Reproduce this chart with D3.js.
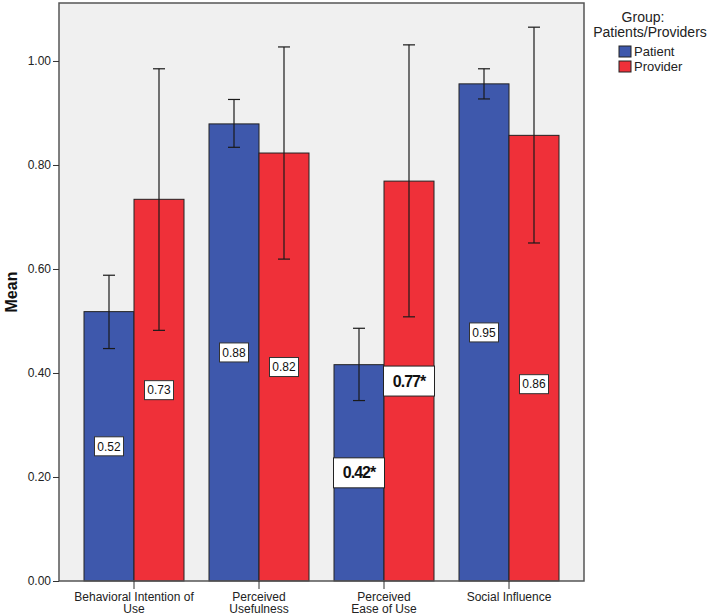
<!DOCTYPE html>
<html>
<head>
<meta charset="utf-8">
<script src="https://cdn.jsdelivr.net/npm/d3@7"></script>
<style>
  body { margin: 0; background: #fff; }
  svg { font-family: "Liberation Sans", Arial, sans-serif; }
</style>
</head>
<body>
<script>
// data
var categories = ["Behavioral Intention of|Use", "Perceived|Usefulness", "Perceived|Ease of Use", "Social Influence"];
var groups = ["Patient", "Provider"];
var patientMean = [0.518, 0.879, 0.416, 0.956];
var providerMean = [0.734, 0.823, 0.769, 0.857];
var patientLow = [0.447, 0.834, 0.347, 0.927];
var patientHigh = [0.588, 0.926, 0.486, 0.985];
var providerLow = [0.482, 0.619, 0.508, 0.650];
var providerHigh = [0.985, 1.027, 1.031, 1.065];
var patientLabels = ["0.52", "0.88", "0.42*", "0.95"];
var providerLabels = ["0.73", "0.82", "0.77*", "0.86"];
var yTicks = [0, 0.2, 0.4, 0.6, 0.8, 1.0];

var colors = {Patient: "#3e58ac", Provider: "#ef3039"};
// the 0.86 box sits lower than the bar middle in the original
var labelShift = {"0.86": 26};

var rows = [];
categories.forEach(function(c, i) {
  rows.push({cat: c, group: "Patient", mean: patientMean[i], lo: patientLow[i], hi: patientHigh[i], label: patientLabels[i]});
  rows.push({cat: c, group: "Provider", mean: providerMean[i], lo: providerLow[i], hi: providerHigh[i], label: providerLabels[i]});
});

var svg = d3.select("body").append("svg")
    .attr("width", 709)
    .attr("height", 615);

var plotLeft = 59, plotRight = 584, plotTop = 3, plotBottom = 581;

var xScale = d3.scaleBand().domain(categories).range([plotLeft, plotRight]).padding(0.2);
var xSub = d3.scaleBand().domain(groups).range([0, xScale.bandwidth()]);
var yScale = d3.scaleLinear().domain([0, 1.1115]).range([plotBottom, plotTop]);

// plot background
svg.append("rect")
    .attr("x", plotLeft).attr("y", plotTop)
    .attr("width", plotRight - plotLeft).attr("height", plotBottom - plotTop)
    .attr("fill", "#f0f0f0");

// bars
svg.selectAll(".bar")
    .data(rows)
    .enter().append("rect")
    .attr("class", "bar")
    .attr("x", function(d) { return xScale(d.cat) + xSub(d.group); })
    .attr("width", xSub.bandwidth())
    .attr("y", function(d) { return yScale(d.mean); })
    .attr("height", function(d) { return yScale(0) - yScale(d.mean); })
    .attr("fill", function(d) { return colors[d.group]; })
    .attr("stroke", "#222")
    .attr("stroke-width", 1);

// error bars
var err = svg.selectAll(".err")
    .data(rows)
    .enter().append("g")
    .attr("class", "err")
    .attr("stroke", "#1a1a1a")
    .attr("stroke-width", 1.2);

function cx(d) { return xScale(d.cat) + xSub(d.group) + xSub.bandwidth() / 2; }

err.append("line")
    .attr("x1", cx).attr("x2", cx)
    .attr("y1", function(d) { return yScale(d.lo); })
    .attr("y2", function(d) { return yScale(d.hi); });
err.append("line")
    .attr("x1", function(d) { return cx(d) - 6; }).attr("x2", function(d) { return cx(d) + 6; })
    .attr("y1", function(d) { return yScale(d.lo); })
    .attr("y2", function(d) { return yScale(d.lo); });
err.append("line")
    .attr("x1", function(d) { return cx(d) - 6; }).attr("x2", function(d) { return cx(d) + 6; })
    .attr("y1", function(d) { return yScale(d.hi); })
    .attr("y2", function(d) { return yScale(d.hi); });

// value labels
var lab = svg.selectAll(".lab")
    .data(rows)
    .enter().append("g")
    .attr("class", "lab")
    .attr("transform", function(d) {
      return "translate(" + cx(d) + "," + (yScale(d.mean / 2) + (labelShift[d.label] || 0)) + ")";
    });

lab.each(function(d) {
  var g = d3.select(this);
  var bold = d.label.indexOf("*") >= 0;
  var w = bold ? 51 : 29, h = bold ? 30 : 19;
  g.append("rect")
      .attr("x", -w / 2).attr("y", -h / 2)
      .attr("width", w).attr("height", h)
      .attr("fill", "#fff")
      .attr("stroke", bold ? "#222" : "#333")
      .attr("stroke-width", 1);
  g.append("text")
      .attr("text-anchor", "middle")
      .attr("dy", "0.35em")
      .attr("font-size", bold ? 16 : 12)
      .attr("font-weight", bold ? "bold" : "normal")
      .attr("letter-spacing", bold ? -1 : 0)
      .attr("fill", "#111")
      .text(d.label);
});

// frame
svg.append("rect")
    .attr("x", plotLeft).attr("y", plotTop)
    .attr("width", plotRight - plotLeft).attr("height", plotBottom - plotTop)
    .attr("fill", "none")
    .attr("stroke", "#555")
    .attr("stroke-width", 1.5);

// y axis
var yAxis = svg.append("g")
    .attr("transform", "translate(" + plotLeft + ",0)")
    .call(d3.axisLeft(yScale).tickValues(yTicks).tickFormat(d3.format(".2f")).tickSize(6).tickPadding(2));
yAxis.select(".domain").remove();
yAxis.selectAll("line").attr("stroke", "#333");
yAxis.selectAll("text").attr("font-size", 12).attr("fill", "#222")
    .attr("font-family", "Liberation Sans, Arial, sans-serif");

svg.append("text")
    .attr("transform", "translate(17," + ((plotTop + plotBottom) / 2) + ") rotate(-90)")
    .attr("text-anchor", "middle")
    .attr("font-size", 16)
    .attr("font-weight", "bold")
    .attr("fill", "#111")
    .text("Mean");

// x axis
var xAxis = svg.append("g")
    .attr("transform", "translate(0," + plotBottom + ")")
    .call(d3.axisBottom(xScale).tickSize(8).tickFormat(""));
xAxis.select(".domain").remove();
xAxis.selectAll("line").attr("stroke", "#333");

xAxis.selectAll(".tick").each(function(c) {
  var t = d3.select(this).append("text")
      .attr("text-anchor", "middle")
      .attr("font-size", 12)
      .attr("fill", "#222")
      .attr("font-family", "Liberation Sans Narrow, Liberation Sans, Arial, sans-serif");
  c.split("|").forEach(function(line, k) {
    t.append("tspan").attr("x", 0).attr("y", 20 + k * 12).text(line);
  });
});

// legend
var legend = svg.append("g").attr("font-size", 14).attr("fill", "#222");
legend.append("text").attr("x", 643).attr("y", 22).attr("text-anchor", "middle").text("Group:");
legend.append("text").attr("x", 650).attr("y", 37).attr("text-anchor", "middle").text("Patients/Providers");

groups.forEach(function(gname, i) {
  legend.append("rect")
      .attr("x", 619).attr("y", 46 + i * 15)
      .attr("width", 12).attr("height", 11)
      .attr("fill", colors[gname])
      .attr("stroke", "#222");
  legend.append("text")
      .attr("x", 634).attr("y", 56 + i * 15)
      .attr("font-size", 13)
      .text(gname);
});
</script>
</body>
</html>
